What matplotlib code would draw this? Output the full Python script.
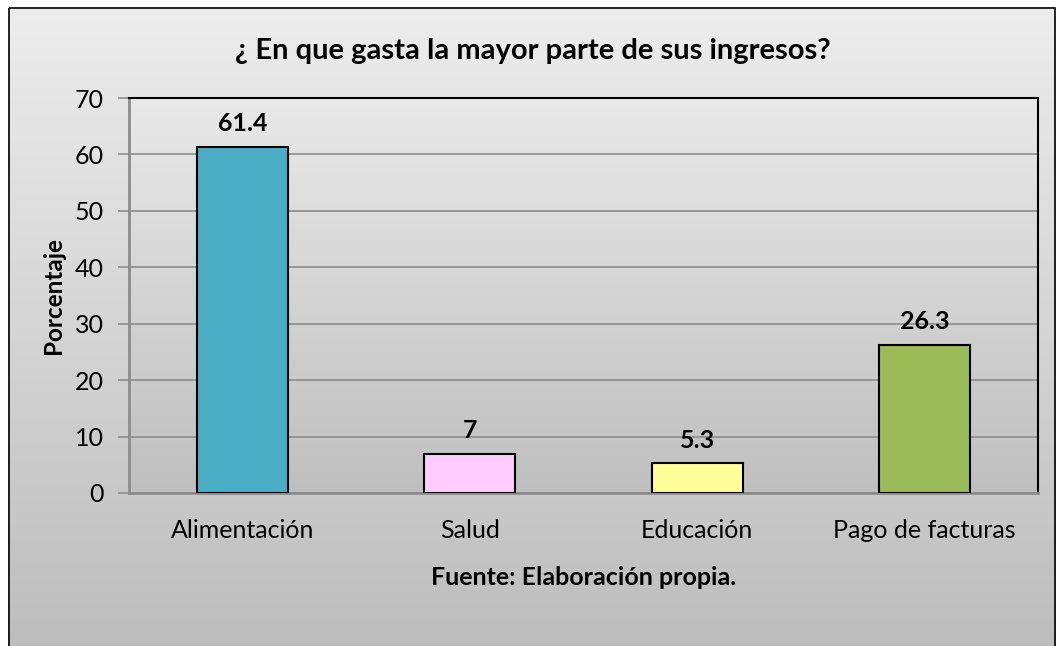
import numpy as np
import matplotlib
matplotlib.use("Agg")
import matplotlib.pyplot as plt
from matplotlib.colors import LinearSegmentedColormap
from matplotlib.patches import Rectangle

categories = ["Alimentación", "Salud", "Educación", "Pago de facturas"]
values = [61.4, 7, 5.3, 26.3]
labels = ["61.4", "7", "5.3", "26.3"]
colors = ["#4BACC6", "#FFCCFF", "#FFFF99", "#9BBB59"]
yticks = [0, 10, 20, 30, 40, 50, 60, 70]

plt.rcParams['font.family'] = ['Lato', 'DejaVu Sans']

W, H = 1057, 646
fig = plt.figure(figsize=(W / 100, H / 100), dpi=100)
fig.patch.set_facecolor("white")

# figure background gradient (chart area)
bg = fig.add_axes([0, 0, 1, 1], zorder=-10)
bg.set_xlim(0, W)
bg.set_ylim(H, 0)
bg.axis("off")
cmap = LinearSegmentedColormap.from_list("g", ["#ededed", "#bcbcbc"])
grad = np.linspace(0, 1, 256).reshape(-1, 1)
bg.imshow(grad, cmap=cmap, extent=[8, 1056, 660, 7], aspect="auto", vmin=0, vmax=1)
bg.add_patch(Rectangle((8.5, 7.5), 1046, 660, fill=False, edgecolor="black", lw=1.2))

# plot area
left, right, top, bottom = 129, 1038, 98, 493
ax = fig.add_axes([left / W, 1 - bottom / H, (right - left) / W, (bottom - top) / H])
ax.set_facecolor("none")
cmap2 = LinearSegmentedColormap.from_list("g2", ["#e9e9e9", "#bfbfbf"])
ax.imshow(grad, cmap=cmap2, extent=[0, 1, 0, 1], transform=ax.transAxes,
          aspect="auto", zorder=0)

x = np.arange(len(categories))
ax.set_xlim(-0.5, len(categories) - 0.5)
ax.set_ylim(0, 70)
ax.set_yticks(yticks)
ax.yaxis.grid(True, color="#8c8c8c", lw=1.2, zorder=1)
ax.set_axisbelow(True)
bars = ax.bar(x, values, width=0.4, color=colors, edgecolor="black", lw=1.5, zorder=3)
for xi, v, t in zip(x, values, labels):
    ax.text(xi, v + 2.0, t, ha="center", va="bottom", fontsize=18, fontweight="bold", zorder=4)

ax.set_xticks(x)
ax.set_xticklabels(categories, fontsize=18)
ax.tick_params(axis="y", labelsize=18, length=8, color="#8c8c8c", width=1.2, pad=10)
ax.tick_params(axis="x", length=0, pad=19)
for s in ["top", "right"]:
    ax.spines[s].set_color("black")
    ax.spines[s].set_linewidth(1.5)
for s in ["left", "bottom"]:
    ax.spines[s].set_color("#8c8c8c")
    ax.spines[s].set_linewidth(2)

ax.set_ylabel("Porcentaje", fontsize=17.5, fontweight="bold", labelpad=7)
ax.set_xlabel("Fuente: Elaboración propia.", fontsize=18, fontweight="bold", labelpad=17)

fig.text(533 / W, 1 - 51 / H, "¿ En que gasta la mayor parte de sus ingresos?",
         ha="center", va="center", fontsize=21, fontweight="bold")

fig.savefig("out.png", dpi=100)
